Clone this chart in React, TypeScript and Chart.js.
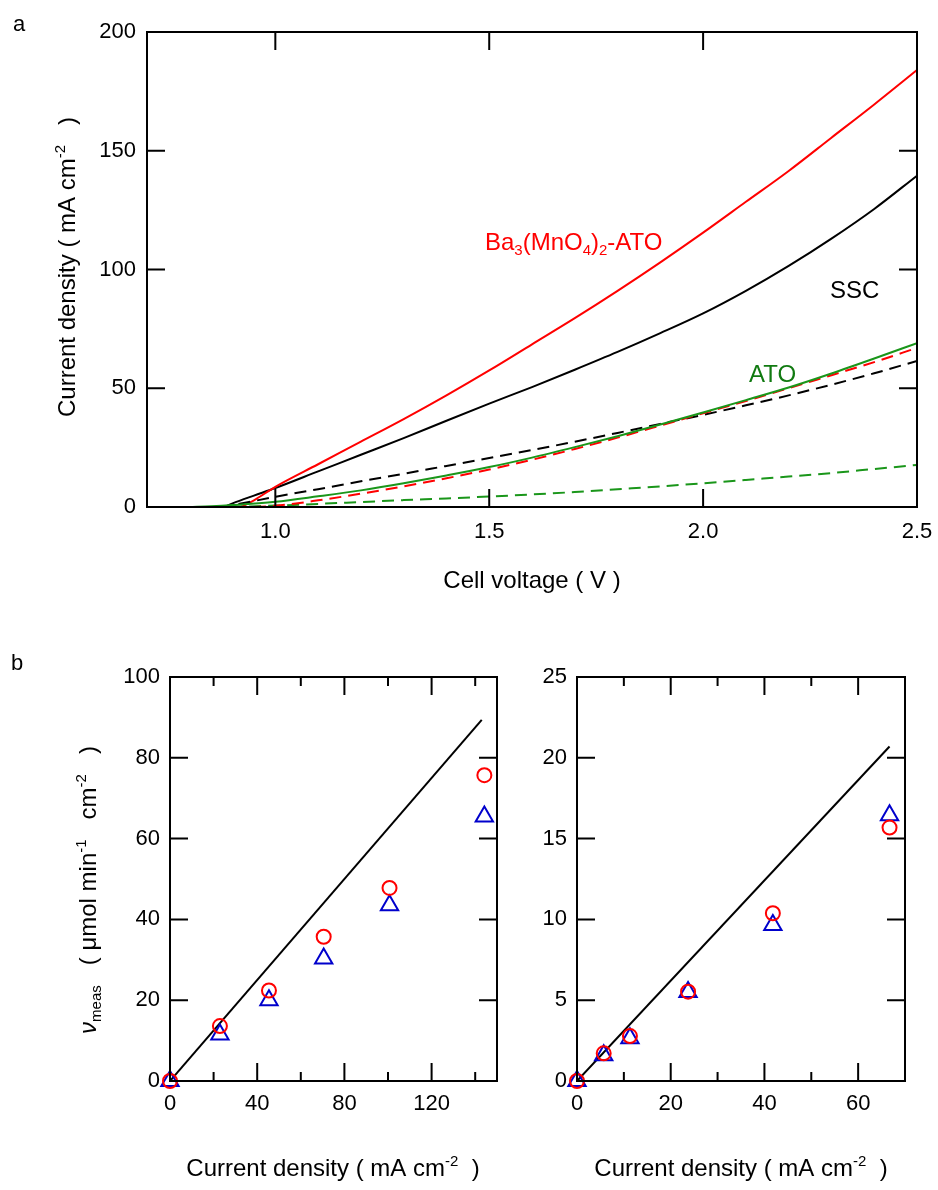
import React, { useEffect, useRef } from "react";
import { Chart, registerables } from "chart.js";

Chart.register(...registerables);

const FONT = '"Liberation Sans", Arial, Helvetica, sans-serif';
const RED = "#ff0000";
const GREEN = "#1a961a";
const GREEN_TEXT = "#117a11";
const BLUE = "#0000cc";

// ---------- Panel a : current density vs cell voltage ----------
const redSolidV = [0.92, 0.95, 1.0, 1.1, 1.2, 1.3, 1.4, 1.5, 1.6, 1.7, 1.8, 1.9, 2.0, 2.1, 2.2, 2.3, 2.4, 2.5];
const redSolidJ = [0, 2.8, 8.5, 18, 27.5, 37, 47, 57.5, 68.5, 79.5, 91, 103, 115.5, 128.5, 141.5, 155.5, 169.5, 184];

const blackSolidV = [0.88, 0.9, 0.95, 1.0, 1.1, 1.2, 1.3, 1.4, 1.5, 1.6, 1.7, 1.8, 1.9, 2.0, 2.1, 2.2, 2.3, 2.4, 2.5];
const blackSolidJ = [0, 1.5, 4.8, 8, 15, 22, 29, 36.3, 43.5, 50.5, 57.8, 65.3, 73.2, 81.5, 91, 101.5, 113, 125.5, 139.5];

const greenSolidV = [0.8, 0.85, 0.9, 1.0, 1.1, 1.2, 1.3, 1.4, 1.5, 1.6, 1.7, 1.8, 1.9, 2.0, 2.1, 2.2, 2.3, 2.4, 2.5];
const greenSolidJ = [0, 0.3, 0.8, 2.2, 4.5, 7, 10, 13.3, 16.8, 20.8, 25.2, 29.8, 34.7, 39.8, 45, 50.3, 56.2, 62.5, 69];

const redDashedV = [0.95, 1.0, 1.1, 1.2, 1.3, 1.4, 1.5, 1.6, 1.7, 1.8, 1.9, 2.0, 2.1, 2.2, 2.3, 2.4, 2.5];
const redDashedJ = [0, 0.5, 2.8, 5.6, 8.7, 12.1, 15.8, 19.9, 24.4, 29.2, 34.3, 39.5, 44.6, 50, 55.5, 61, 67];

const blackDashedV = [0.87, 0.9, 1.0, 1.1, 1.2, 1.3, 1.4, 1.5, 1.6, 1.7, 1.8, 1.9, 2.0, 2.1, 2.2, 2.3, 2.4, 2.5];
const blackDashedJ = [0, 0.8, 4.3, 7.5, 10.8, 14, 17.3, 20.6, 24, 27.5, 31.2, 35, 38.8, 42.8, 47, 51.5, 56.3, 61.5];

const greenDashedV = [0.85, 0.9, 1.0, 1.1, 1.2, 1.3, 1.4, 1.5, 1.6, 1.7, 1.8, 1.9, 2.0, 2.1, 2.2, 2.3, 2.4, 2.5];
const greenDashedJ = [0, 0.1, 0.6, 1.3, 2.1, 2.9, 3.6, 4.4, 5.3, 6.3, 7.5, 8.7, 10, 11.4, 12.8, 14.3, 16, 17.7];

const voltageTicks = [1.0, 1.5, 2.0, 2.5];
const currentTicksA = [0, 50, 100, 150, 200];

// ---------- Panel b left ----------
const leftCurrent = [0, 22.9, 45.4, 70.5, 100.7, 144.2];
const leftCircle = [0, 13.6, 22.4, 35.7, 47.8, 75.7];
const leftTriangle = [0, 11.5, 20.0, 30.3, 43.5, 65.5];
const leftLineX = [0, 143];
const leftLineY = [0, 89.4];
const leftXTicks = [0, 40, 80, 120];
const leftYTicks = [0, 20, 40, 60, 80, 100];

// ---------- Panel b right ----------
const rightCurrent = [0, 5.7, 11.3, 23.7, 41.8, 66.7];
const rightCircle = [0, 1.71, 2.78, 5.53, 10.38, 15.68];
const rightTriangle = [0, 1.6, 2.65, 5.5, 9.65, 16.45];
const rightLineX = [0, 66.7];
const rightLineY = [0, 20.7];
const rightXTicks = [0, 20, 40, 60];
const rightYTicks = [0, 5, 10, 15, 20, 25];

type Seg = { t: string; s?: "sup" | "sub"; i?: boolean };
type TextSpec = {
  segs: Seg[];
  x: number;
  y: number;
  size: number;
  color: string;
  rot?: boolean;
  align?: "left" | "center";
};
type FrameSpec = {
  xMajor: number[];
  xMinor: number[];
  yMajor: number[];
  yMinor: number[];
  major: number;
  minor: number;
};

function drawRich(ctx: CanvasRenderingContext2D, spec: TextSpec) {
  ctx.save();
  ctx.translate(spec.x, spec.y);
  if (spec.rot) ctx.rotate(-Math.PI / 2);
  ctx.fillStyle = spec.color;
  ctx.textBaseline = "alphabetic";
  ctx.textAlign = "left";
  const fontFor = (seg: Seg) =>
    `${seg.i ? "italic " : ""}${seg.s ? Math.round(spec.size * 0.62) : spec.size}px ${FONT}`;
  let total = 0;
  const widths = spec.segs.map((seg) => {
    ctx.font = fontFor(seg);
    const w = ctx.measureText(seg.t).width;
    total += w;
    return w;
  });
  let x = spec.align === "center" ? -total / 2 : 0;
  spec.segs.forEach((seg, k) => {
    ctx.font = fontFor(seg);
    const dy = seg.s === "sup" ? -spec.size * 0.42 : seg.s === "sub" ? spec.size * 0.22 : 0;
    ctx.fillText(seg.t, x, dy);
    x += widths[k];
  });
  ctx.restore();
}

function decorPlugin(frame: FrameSpec, texts: TextSpec[]) {
  return {
    id: "decor",
    afterDraw(chart: any) {
      const { ctx, chartArea: a, scales } = chart;
      const xs = scales.x;
      const ys = scales.y;
      ctx.save();
      ctx.strokeStyle = "#000";
      ctx.lineWidth = 2;
      ctx.lineCap = "butt";
      ctx.setLineDash([]);
      ctx.beginPath();
      const xt = (vals: number[], len: number) =>
        vals.forEach((v) => {
          const p = xs.getPixelForValue(v);
          ctx.moveTo(p, a.bottom);
          ctx.lineTo(p, a.bottom - len);
          ctx.moveTo(p, a.top);
          ctx.lineTo(p, a.top + len);
        });
      const yt = (vals: number[], len: number) =>
        vals.forEach((v) => {
          const p = ys.getPixelForValue(v);
          ctx.moveTo(a.left, p);
          ctx.lineTo(a.left + len, p);
          ctx.moveTo(a.right, p);
          ctx.lineTo(a.right - len, p);
        });
      xt(frame.xMajor, frame.major);
      xt(frame.xMinor, frame.minor);
      yt(frame.yMajor, frame.major);
      yt(frame.yMinor, frame.minor);
      ctx.stroke();
      ctx.strokeRect(a.left, a.top, a.right - a.left, a.bottom - a.top);
      ctx.restore();
      texts.forEach((t) => drawRich(ctx, t));
    },
  };
}

const pts = (xv: number[], yv: number[]) => xv.map((x, i) => ({ x, y: yv[i] }));

function axisOpts(min: number, max: number, tickVals: number[], fmt: (v: number) => string, pad: number, fit: (s: any) => void) {
  return {
    type: "linear",
    min,
    max,
    afterBuildTicks: (s: any) => {
      s.ticks = tickVals.map((v) => ({ value: v }));
    },
    afterFit: (s: any) => {
      fit(s);
      s.paddingLeft = 0;
      s.paddingRight = 0;
      s.paddingTop = 0;
      s.paddingBottom = 0;
    },
    ticks: {
      font: { family: FONT, size: 22 },
      color: "#000",
      padding: pad,
      autoSkip: false,
      maxRotation: 0,
      callback: (v: any) => fmt(Number(v)),
    },
    grid: { display: false, drawTicks: false },
    border: { display: false },
  };
}

function curve(v: number[], j: number[], color: string, dashed: boolean) {
  return {
    type: "line",
    data: pts(v, j),
    borderColor: color,
    borderWidth: 2,
    borderDash: dashed ? [12, 7] : [],
    pointRadius: 0,
    tension: 0.4,
    cubicInterpolationMode: "monotone",
    fill: false,
  };
}

function makeA(): any {
  return {
    type: "line",
    data: {
      datasets: [
        curve(greenSolidV, greenSolidJ, GREEN, false),
        curve(redDashedV, redDashedJ, RED, true),
        curve(blackDashedV, blackDashedJ, "#000", true),
        curve(greenDashedV, greenDashedJ, GREEN, true),
        curve(redSolidV, redSolidJ, RED, false),
        curve(blackSolidV, blackSolidJ, "#000", false),
      ],
    },
    options: {
      animation: false,
      responsive: false,
      devicePixelRatio: 1,
      layout: { padding: { left: 0, top: 32, right: 21, bottom: 0 } },
      plugins: { legend: { display: false }, tooltip: { enabled: false } },
      scales: {
        x: axisOpts(0.7, 2.5, voltageTicks, (v) => v.toFixed(1), 12, (s: any) => {
          s.height = 93;
        }),
        y: axisOpts(0, 200, currentTicksA, (v) => String(v), 11, (s: any) => {
          s.width = 147;
        }),
      },
    },
    plugins: [
      decorPlugin(
        { xMajor: [1.0, 1.5, 2.0], xMinor: [], yMajor: [50, 100, 150], yMinor: [], major: 18, minor: 9 },
        [
          { segs: [{ t: "a" }], x: 13, y: 31, size: 22, color: "#000" },
          {
            segs: [{ t: "Current density ( mA cm" }, { t: "-2", s: "sup" }, { t: "   )" }],
            x: 75,
            y: 267,
            size: 24,
            color: "#000",
            rot: true,
            align: "center",
          },
          { segs: [{ t: "Cell voltage ( V )" }], x: 532, y: 588, size: 24, color: "#000", align: "center" },
          {
            segs: [
              { t: "Ba" },
              { t: "3", s: "sub" },
              { t: "(MnO" },
              { t: "4", s: "sub" },
              { t: ")" },
              { t: "2", s: "sub" },
              { t: "-ATO" },
            ],
            x: 485,
            y: 250,
            size: 24,
            color: RED,
          },
          { segs: [{ t: "SSC" }], x: 830, y: 298, size: 24, color: "#000" },
          { segs: [{ t: "ATO" }], x: 749, y: 382, size: 24, color: GREEN_TEXT },
        ]
      ),
    ],
  };
}

function makeB(
  lx: number[], ly: number[], cx: number[], cy: number[], ty: number[],
  xmax: number, ymax: number, xTicks: number[], yTicks: number[],
  frame: FrameSpec, yWidth: number, padRight: number, texts: TextSpec[]
): any {
  return {
    type: "scatter",
    data: {
      datasets: [
        {
          data: pts(cx, cy),
          pointStyle: "circle",
          pointRadius: 7,
          borderColor: RED,
          backgroundColor: "rgba(0,0,0,0)",
          pointBorderWidth: 2,
          borderWidth: 2,
          clip: false,
        },
        {
          data: pts(cx, ty),
          pointStyle: "triangle",
          pointRadius: 10,
          borderColor: BLUE,
          backgroundColor: "rgba(0,0,0,0)",
          pointBorderWidth: 2,
          borderWidth: 2,
          clip: false,
        },
        {
          data: pts(lx, ly),
          showLine: true,
          borderColor: "#000",
          borderWidth: 2,
          pointRadius: 0,
        },
      ],
    },
    options: {
      animation: false,
      responsive: false,
      devicePixelRatio: 1,
      layout: { padding: { left: 0, top: 37, right: padRight, bottom: 0 } },
      plugins: { legend: { display: false }, tooltip: { enabled: false } },
      scales: {
        x: axisOpts(0, xmax, xTicks, (v) => String(v), 10, (s: any) => {
          s.height = 109;
        }),
        y: axisOpts(0, ymax, yTicks, (v) => String(v), 10, (s: any) => {
          s.width = yWidth;
        }),
      },
    },
    plugins: [decorPlugin(frame, texts)],
  };
}

function ChartBox(props: { left: number; top: number; width: number; height: number; make: () => any }) {
  const ref = useRef<HTMLCanvasElement>(null);
  useEffect(() => {
    const chart = new Chart(ref.current as HTMLCanvasElement, props.make());
    return () => chart.destroy();
  }, []);
  return (
    <div style={{ position: "absolute", left: props.left, top: props.top, width: props.width, height: props.height }}>
      <canvas
        ref={ref}
        width={props.width}
        height={props.height}
        style={{ width: props.width, height: props.height, display: "block" }}
      />
    </div>
  );
}

const titleCD: Seg[] = [{ t: "Current density ( mA cm" }, { t: "-2", s: "sup" }, { t: "  )" }];

export default function App() {
  return (
    <div style={{ position: "absolute", left: 0, top: 0, width: 938, height: 1190, background: "#fff" }}>
      <ChartBox left={0} top={0} width={938} height={600} make={makeA} />
      <ChartBox
        left={0}
        top={640}
        width={520}
        height={550}
        make={() =>
          makeB(
            leftLineX, leftLineY, leftCurrent, leftCircle, leftTriangle,
            150, 100, leftXTicks, leftYTicks,
            { xMajor: [40, 80, 120], xMinor: [20, 60, 100, 140], yMajor: [20, 40, 60, 80], yMinor: [], major: 18, minor: 9 },
            170, 23,
            [
              { segs: [{ t: "b" }], x: 11, y: 30, size: 22, color: "#000" },
              {
                segs: [
                  { t: "ν", i: true },
                  { t: "meas", s: "sub" },
                  { t: "   ( μmol min" },
                  { t: "-1", s: "sup" },
                  { t: "   cm" },
                  { t: "-2", s: "sup" },
                  { t: "   )" },
                ],
                x: 96,
                y: 250,
                size: 24,
                color: "#000",
                rot: true,
                align: "center",
              },
              { segs: titleCD, x: 333, y: 536, size: 24, color: "#000", align: "center" },
            ]
          )
        }
      />
      <ChartBox
        left={520}
        top={640}
        width={418}
        height={550}
        make={() =>
          makeB(
            rightLineX, rightLineY, rightCurrent, rightCircle, rightTriangle,
            70, 25, rightXTicks, rightYTicks,
            { xMajor: [20, 40, 60], xMinor: [10, 30, 50], yMajor: [5, 10, 15, 20], yMinor: [], major: 18, minor: 9 },
            57, 33,
            [{ segs: titleCD, x: 221, y: 536, size: 24, color: "#000", align: "center" }]
          )
        }
      />
    </div>
  );
}
